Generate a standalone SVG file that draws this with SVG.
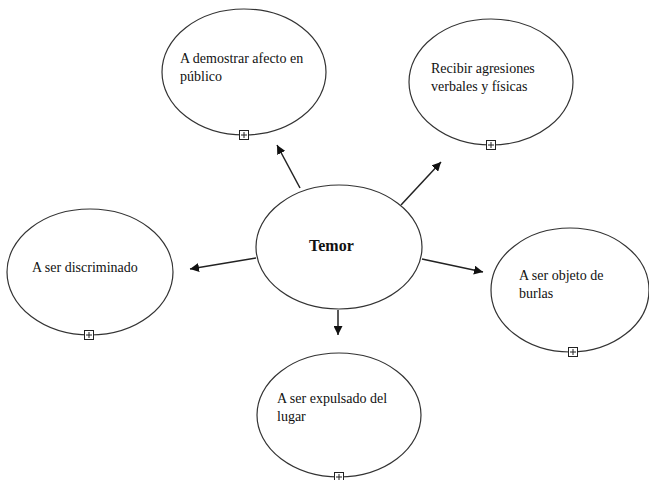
<svg xmlns="http://www.w3.org/2000/svg" width="649" height="480" viewBox="0 0 649 480">
<style>
.n ellipse{fill:#fff;stroke:#333;stroke-width:1.2}
.t{font-family:"Liberation Serif","Times New Roman",serif;font-size:14px;fill:#111}
.b{font-weight:bold;font-size:16px}
.c line{stroke:#222;stroke-width:1.5;marker-end:url(#ah)}
.p rect{fill:#fff;stroke:#222;stroke-width:1}
.p path{stroke:#222;stroke-width:1;fill:none}
</style>
<defs>
<marker id="ah" viewBox="0 0 10 10" refX="10" refY="5" markerWidth="6" markerHeight="6" markerUnits="strokeWidth" orient="auto">
<path d="M0,0 L10,5 L0,10 z" fill="#111"/>
</marker>
<g id="plus" class="p"><rect x="-4.5" y="-4.5" width="9" height="9"/><path d="M-3,0 H3 M0,-3 V3"/></g>
</defs>
<rect width="649" height="480" fill="#fff"/>
<g id="connectors" class="c">
<line x1="300" y1="188" x2="277" y2="145"/>
<line x1="401" y1="205" x2="441" y2="162"/>
<line x1="256" y1="258" x2="190" y2="269"/>
<line x1="422" y1="259" x2="483" y2="272"/>
<line x1="338" y1="310" x2="338" y2="335"/>
</g>
<g id="temor" class="n"><ellipse cx="339" cy="247" rx="83" ry="62"/><text class="t b" x="309" y="251">Temor</text></g>
<g id="afecto" class="n"><ellipse cx="244" cy="72" rx="82" ry="63"/><text class="t" x="180" y="63">A demostrar afecto en</text><text class="t" x="180" y="81">público</text><use href="#plus" x="244" y="135"/></g>
<g id="agresiones" class="n"><ellipse cx="491" cy="82" rx="82" ry="63"/><text class="t" x="431" y="73">Recibir agresiones</text><text class="t" x="431" y="91">verbales y físicas</text><use href="#plus" x="491" y="145"/></g>
<g id="discriminado" class="n"><ellipse cx="90" cy="272" rx="83" ry="63"/><text class="t" x="32" y="272">A ser discriminado</text><use href="#plus" x="89" y="335"/></g>
<g id="burlas" class="n"><ellipse cx="570" cy="290" rx="79" ry="62"/><text class="t" x="519" y="280">A ser objeto de</text><text class="t" x="519" y="298">burlas</text><use href="#plus" x="573" y="352"/></g>
<g id="expulsado" class="n"><ellipse cx="339" cy="415" rx="82" ry="62"/><text class="t" x="277" y="403">A ser expulsado del</text><text class="t" x="277" y="421">lugar</text><use href="#plus" x="339" y="477"/></g>
</svg>
